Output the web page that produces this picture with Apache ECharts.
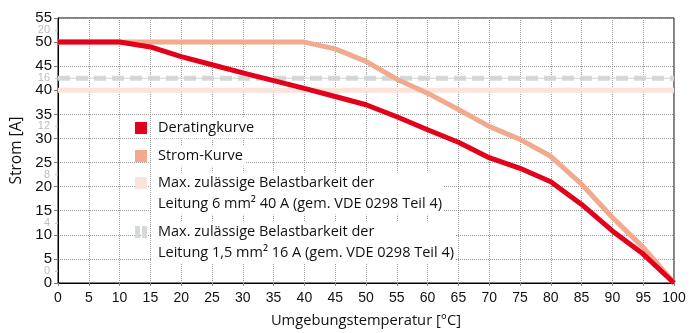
<!DOCTYPE html>
<html>
<head>
<meta charset="utf-8">
<script src="https://cdn.jsdelivr.net/npm/echarts@6/dist/echarts.min.js"></script>
<style>
  html, body { margin: 0; padding: 0; background: #fff; }
  #chart { width: 697px; height: 333px; }
</style>
</head>
<body>
<div id="chart"></div>
<script>
// Temperatur (°C)
var temps = [0, 5, 10, 15, 20, 25, 30, 35, 40, 45, 50, 55, 60, 65, 70, 75, 80, 85, 90, 95, 100];
// Deratingkurve (A)
var derating = [50, 50, 50, 49, 47, 45.3, 43.6, 42, 40.4, 38.7, 37, 34.5, 31.8, 29.2, 26, 23.8, 21, 16.3, 10.8, 6, 0];
// Strom-Kurve (A)
var strom = [50, 50, 50, 50, 50, 50, 50, 50, 50, 48.6, 46, 42.3, 39.4, 36, 32.5, 29.8, 26.3, 20.5, 13.6, 7.4, 0];
// Grenzwerte Leitung
var limit6 = 40;
var limit15 = 42.5;
// Nebenskala (grau, links)
var sideTicks = [0, 4, 8, 12, 16, 20];

var names = [
    'Deratingkurve',
    'Strom-Kurve',
    'Max. zulässige Belastbarkeit der\nLeitung 6 mm² 40 A (gem. VDE 0298 Teil 4)',
    'Max. zulässige Belastbarkeit der\nLeitung 1,5 mm² 16 A (gem. VDE 0298 Teil 4)'
];

function pairs(ys) {
    return temps.map(function (t, i) { return [t, ys[i]]; });
}

var fontTxt = '"Open Sans", "Noto Sans", sans-serif';
var fontNum = '"Liberation Sans", Arial, sans-serif';

var legendText = {
    fontFamily: fontTxt, fontSize: 14.5, color: '#111',
    lineHeight: 21, backgroundColor: '#fff', padding: [0, 2, 0, 6]
};

var myChart = echarts.init(document.getElementById('chart'));
var option = {
    animation: false,
    grid: {
        left: 58, right: 23, top: 18, bottom: 49,
        show: true, borderColor: '#000', borderWidth: 1
    },
    legend: [
        {
            orient: 'vertical', left: 135, top: 117.5, padding: 0,
            itemWidth: 12, itemHeight: 12, itemGap: 7,
            itemStyle: { borderWidth: 0 },
            data: [
                { name: names[0], icon: 'rect' },
                { name: names[1], icon: 'rect' }
            ],
            textStyle: legendText
        },
        {
            // Symbol an der ersten Textzeile ausrichten
            orient: 'vertical', left: 135, top: 172.5, padding: 0,
            itemWidth: 12, itemHeight: 33, itemGap: 7,
            itemStyle: { borderWidth: 0 },
            data: [
                { name: names[2], icon: 'path://M0,0h12v12h-12z M0,32.99h0.01v0.01z' },
                { name: names[3], icon: 'path://M0,0h5v12h-5z M7,0h5v12h-5z M0,32.99h0.01v0.01z' }
            ],
            textStyle: legendText
        }
    ],
    xAxis: {
        type: 'value', min: 0, max: 100, interval: 5,
        name: 'Umgebungstemperatur [°C]',
        nameLocation: 'middle', nameGap: 30,
        nameTextStyle: { fontFamily: fontTxt, fontSize: 14.7, color: '#111' },
        axisLine: { lineStyle: { color: '#000' } },
        axisTick: { show: true, length: 3, lineStyle: { color: '#888' } },
        axisLabel: { fontFamily: fontNum, fontSize: 14, color: '#111', margin: 8 },
        splitLine: { lineStyle: { color: '#999', type: 'dotted' } }
    },
    yAxis: [
        {
            type: 'value', min: 0, max: 55, interval: 5,
            name: 'Strom [A]',
            nameLocation: 'middle', nameGap: 27,
            nameTextStyle: { fontFamily: fontTxt, fontSize: 15.5, color: '#111' },
            axisLine: { show: true, lineStyle: { color: '#000' } },
            axisTick: { show: true, length: 4, lineStyle: { color: '#777' } },
            axisLabel: { fontFamily: fontNum, fontSize: 15, color: '#111', margin: 6 },
            splitLine: { lineStyle: { color: '#999', type: 'dotted' } }
        },
        {
            type: 'value', min: -1, max: 21, position: 'left',
            axisLine: { show: false },
            axisTick: { show: true, length: 3, customValues: sideTicks, lineStyle: { color: '#c8c8c8' } },
            axisLabel: { customValues: sideTicks, fontFamily: fontNum, fontSize: 11, color: '#bdbdbd', margin: 8 },
            splitLine: { show: false }
        }
    ],
    series: [
        {
            name: names[2], type: 'line', symbol: 'none', z: 1,
            itemStyle: { color: '#fbe3d9' },
            lineStyle: { color: '#fbe3d9', width: 5 },
            data: [[temps[0], limit6], [temps[temps.length - 1], limit6]]
        },
        {
            name: names[3], type: 'line', symbol: 'none', z: 2,
            itemStyle: { color: '#d6d9d9' },
            lineStyle: { color: '#d6d9d9', width: 5, type: [12, 6] },
            data: [[temps[0], limit15], [temps[temps.length - 1], limit15]]
        },
        {
            name: names[3], type: 'line', symbol: 'none', z: 2,
            lineStyle: { color: '#cfd2d2', width: 1 },
            data: [[temps[0], limit15], [temps[temps.length - 1], limit15]]
        },
        {
            name: names[1], type: 'line', symbol: 'none', z: 3,
            itemStyle: { color: '#f2aa8f' },
            lineStyle: { color: '#f2aa8f', width: 5 },
            data: pairs(strom)
        },
        {
            name: names[0], type: 'line', symbol: 'none', z: 4,
            itemStyle: { color: '#e3001b' },
            lineStyle: { color: '#e3001b', width: 5 },
            data: pairs(derating)
        }
    ]
};
myChart.setOption(option);
</script>
</body>
</html>
